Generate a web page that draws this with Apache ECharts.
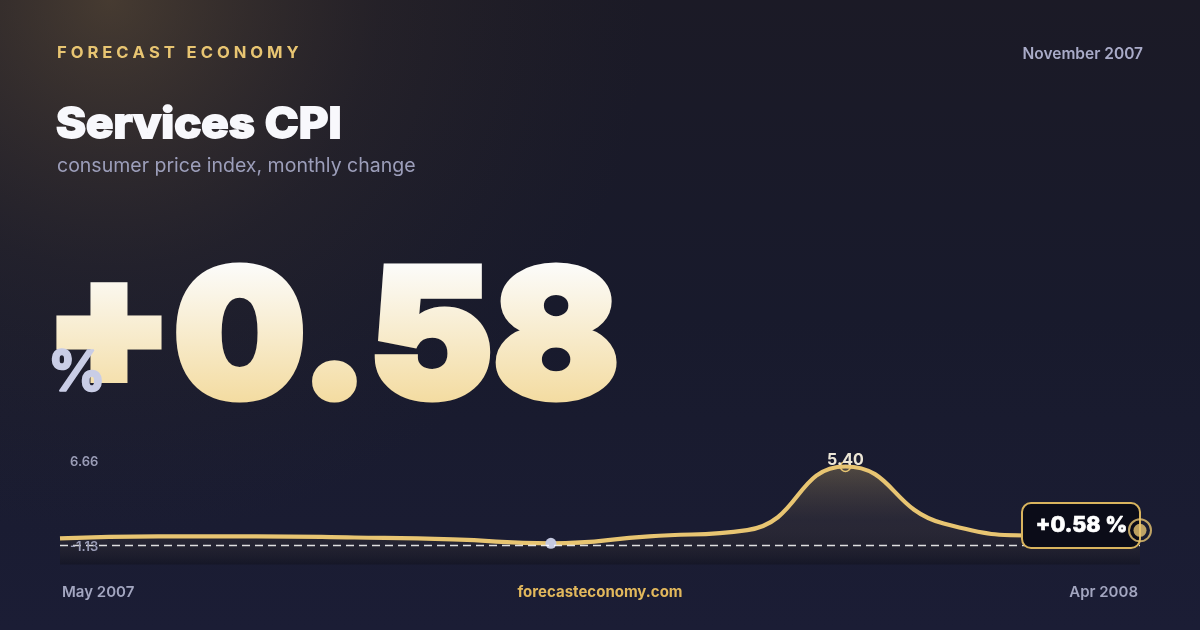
<!DOCTYPE html>
<html>
<head>
<meta charset="utf-8">
<title>Services CPI</title>
<script src="https://cdn.jsdelivr.net/npm/echarts@6/dist/echarts.min.js"></script>
<style>
html,body{margin:0;padding:0;background:#181a2c;}
#main{width:1200px;height:630px;}
</style>
</head>
<body>
<div id="main"></div>
<script>
// monthly data, May 2007 - Apr 2008
var months = ['May 2007','Jun 2007','Jul 2007','Aug 2007','Sep 2007','Oct 2007','Nov 2007','Dec 2007','Jan 2008','Feb 2008','Mar 2008','Apr 2008'];
var cpiChange = [-0.02, 0.13, 0.13, 0.04, -0.11, -0.40, 0.13, 0.60, 5.40, 1.09, 0.19, 0.58];
var rangeLabels = ['6.66', '-1.13'];
var refLine = -0.53;
var headline = '+0.58';
var reportMonth = 'November 2007';

var gold = '#e8c572';
var last = cpiChange.length - 1;
var peakIdx = 0, lowIdx = 0;
for (var i = 0; i < cpiChange.length; i++) {
    if (cpiChange[i] > cpiChange[peakIdx]) peakIdx = i;
    if (cpiChange[i] < cpiChange[lowIdx]) lowIdx = i;
}

var lineData = cpiChange.map(function (v, i) {
    if (i === peakIdx) {
        return {
            value: v, symbol: 'circle', symbolSize: 10,
            itemStyle: {color: 'rgba(0,0,0,0)', borderColor: gold, borderWidth: 1.5},
            label: {
                show: true, position: 'top', distance: -7,
                formatter: v.toFixed(2),
                color: '#ece6d6', fontSize: 16, fontWeight: 700, fontFamily: 'Inter'
            }
        };
    }
    if (i === lowIdx) {
        return {value: v, symbol: 'circle', symbolSize: 11, itemStyle: {color: '#c5c9e0', borderWidth: 0}};
    }
    return {value: v, symbol: 'none'};
});

var endOnly = cpiChange.map(function (v, i) { return i === last ? v : null; });

function spaced(s) {
    return s.split('').join('\u2009\u200a');
}

var bigFont = '900 178px Inter';

var graphics = [
    {
        id: 'glow', type: 'rect', z: -10, silent: true,
        shape: {x: 0, y: 0, width: 1200, height: 630},
        style: {
            fill: new echarts.graphic.RadialGradient(110, 0, 540, [
                {offset: 0, color: 'rgba(130,104,64,0.42)'},
                {offset: 0.5, color: 'rgba(90,72,50,0.15)'},
                {offset: 1, color: 'rgba(60,50,40,0)'}
            ], true)
        }
    },
    {
        id: 'brand', type: 'text', x: 57, y: 53, scaleX: 1.04,
        style: {text: spaced('FORECAST ECONOMY'), fill: gold, font: '700 16px Inter', verticalAlign: 'middle', textVerticalAlign: 'middle'}
    },
    {
        id: 'month', type: 'text', x: 1143, y: 54,
        style: {text: reportMonth, fill: '#a9abc8', font: '600 15.5px Inter', align: 'right', textAlign: 'right', verticalAlign: 'middle', textVerticalAlign: 'middle'}
    },
    {
        id: 'title', type: 'text', x: 56, y: 125, scaleX: 1.085,
        style: {
            text: 'Services CPI', fill: '#f8f8fc', font: '800 42px Inter',
            stroke: '#f8f8fc', lineWidth: 1.8,
            verticalAlign: 'middle', textVerticalAlign: 'middle'
        }
    },
    {
        id: 'subtitle', type: 'text', x: 57, y: 166,
        style: {text: 'consumer price index, monthly change', fill: '#9c9eba', font: '400 19.5px Inter', verticalAlign: 'middle', textVerticalAlign: 'middle'}
    },
    // big number: shadow copy underneath, then a white copy tinted by a gradient rect (source-atop)
    {
        id: 'bigShadow', type: 'text', x: 44.5, y: 343, scaleX: 1.045, zlevel: 5, silent: true,
        style: {
            text: headline, font: bigFont, fill: '#101018', stroke: '#101018', lineWidth: 7,
            verticalAlign: 'middle', textVerticalAlign: 'middle',
            shadowColor: 'rgba(0,0,0,0.6)', shadowBlur: 26, shadowOffsetY: 6
        }
    },
    {
        id: 'big', type: 'text', x: 44.5, y: 343, scaleX: 1.045, zlevel: 6, z: 1,
        style: {
            text: headline, font: bigFont, fill: '#ffffff', stroke: '#ffffff', lineWidth: 7,
            verticalAlign: 'middle', textVerticalAlign: 'middle'
        }
    },
    {
        id: 'bigTint', type: 'rect', zlevel: 6, z: 2, silent: true,
        shape: {x: 30, y: 240, width: 620, height: 190},
        style: {
            blend: 'source-atop',
            fill: new echarts.graphic.LinearGradient(0, 262, 0, 410, [
                {offset: 0, color: '#fcfcfb'},
                {offset: 1, color: '#f3da9c'}
            ], true)
        }
    },
    {
        id: 'pct', type: 'text', x: 48, y: 374, zlevel: 7,
        style: {
            text: '%', font: '800 56px Inter', fill: '#c9cde6',
            stroke: '#c9cde6', lineWidth: 1.5,
            textVerticalAlign: 'middle', verticalAlign: 'middle'
        }
    },
    {
        id: 'maxLbl', type: 'text', x: 70, y: 462, z: 100,
        style: {text: rangeLabels[0], font: '600 13px Inter', fill: '#9a9cb6', verticalAlign: 'middle', textVerticalAlign: 'middle'}
    },
    {
        id: 'minLbl', type: 'text', x: 70, y: 547.5, z: 100, zlevel: 2,
        style: {text: rangeLabels[1], font: '600 13px Inter', fill: '#9a9cb6', verticalAlign: 'middle', textVerticalAlign: 'middle'}
    },
    {
        id: 'start', type: 'text', x: 62, y: 592,
        style: {text: months[0], font: '600 15px Inter', fill: '#a3a6c0', verticalAlign: 'middle', textVerticalAlign: 'middle'}
    },
    {
        id: 'site', type: 'text', x: 600, y: 592,
        style: {text: 'forecasteconomy.com', font: '700 15px Inter', fill: '#e2b85c', align: 'center', textAlign: 'center', verticalAlign: 'middle', textVerticalAlign: 'middle'}
    },
    {
        id: 'end', type: 'text', x: 1138, y: 592,
        style: {text: months[last], font: '600 15px Inter', fill: '#a3a6c0', align: 'right', textAlign: 'right', verticalAlign: 'middle', textVerticalAlign: 'middle'}
    }
];

var myChart = echarts.init(document.getElementById('main'), null, {renderer: 'canvas'});

myChart.setOption({
    backgroundColor: new echarts.graphic.LinearGradient(0, 0, 0, 1, [
        {offset: 0, color: '#1b1a26'},
        {offset: 0.5, color: '#181a2c'},
        {offset: 1, color: '#1b1d35'}
    ]),
    animation: false,
    grid: {left: 60, right: 60, top: 438.7, bottom: 65.5},
    xAxis: {type: 'category', data: months, boundaryGap: false, show: false},
    yAxis: {type: 'value', min: -2.0, max: 7.5, show: false, splitLine: {show: false}},
    graphic: graphics,
    series: [
        {
            type: 'line',
            data: lineData,
            smooth: 0.5,
            showSymbol: true,
            symbol: 'none',
            z: 2,
            lineStyle: {color: gold, width: 4.2},
            itemStyle: {color: gold},
            areaStyle: {
                origin: 'start',
                color: new echarts.graphic.LinearGradient(0, 0, 0, 1, [
                    {offset: 0, color: 'rgba(232,197,114,0.38)'},
                    {offset: 0.55, color: 'rgba(150,125,85,0.17)'},
                    {offset: 1, color: 'rgba(8,8,10,0.40)'}
                ])
            },
            markLine: {
                silent: true,
                symbol: 'none',
                label: {show: false},
                lineStyle: {color: 'rgba(255,255,255,0.85)', type: [8, 5], width: 1.3},
                data: [{yAxis: refLine}]
            }
        },
        {
            type: 'scatter',
            data: endOnly,
            symbol: 'circle',
            symbolSize: 22,
            zlevel: 9,
            z: 6,
            itemStyle: {color: 'rgba(0,0,0,0)', borderColor: gold, borderWidth: 2}
        },
        {
            type: 'scatter',
            data: endOnly,
            symbol: 'circle',
            symbolSize: 13,
            zlevel: 9,
            z: 7,
            itemStyle: {color: gold}
        }
    ]
});

// callout box next to the latest point
var pt = myChart.convertToPixel({xAxisIndex: 0, yAxisIndex: 0}, [last, cpiChange[last]]);
graphics.push({
    id: 'calloutBox', type: 'rect', zlevel: 8, z: 3,
    shape: {x: pt[0] - 118, y: pt[1] - 27.3, width: 118, height: 45, r: 9},
    style: {fill: '#0b0c18', stroke: '#d9b45e', lineWidth: 2}
});
graphics.push({
    id: 'calloutText', type: 'text', zlevel: 8, z: 4, x: pt[0] - 58.5, y: pt[1] - 4.8,
    style: {
        text: headline + ' %', font: '800 21.5px Inter', fill: '#ffffff',
        stroke: '#ffffff', lineWidth: 0.7,
        align: 'center', textAlign: 'center', verticalAlign: 'middle', textVerticalAlign: 'middle'
    }
});
myChart.setOption({graphic: graphics}, {replaceMerge: ['graphic']});
</script>
</body>
</html>
